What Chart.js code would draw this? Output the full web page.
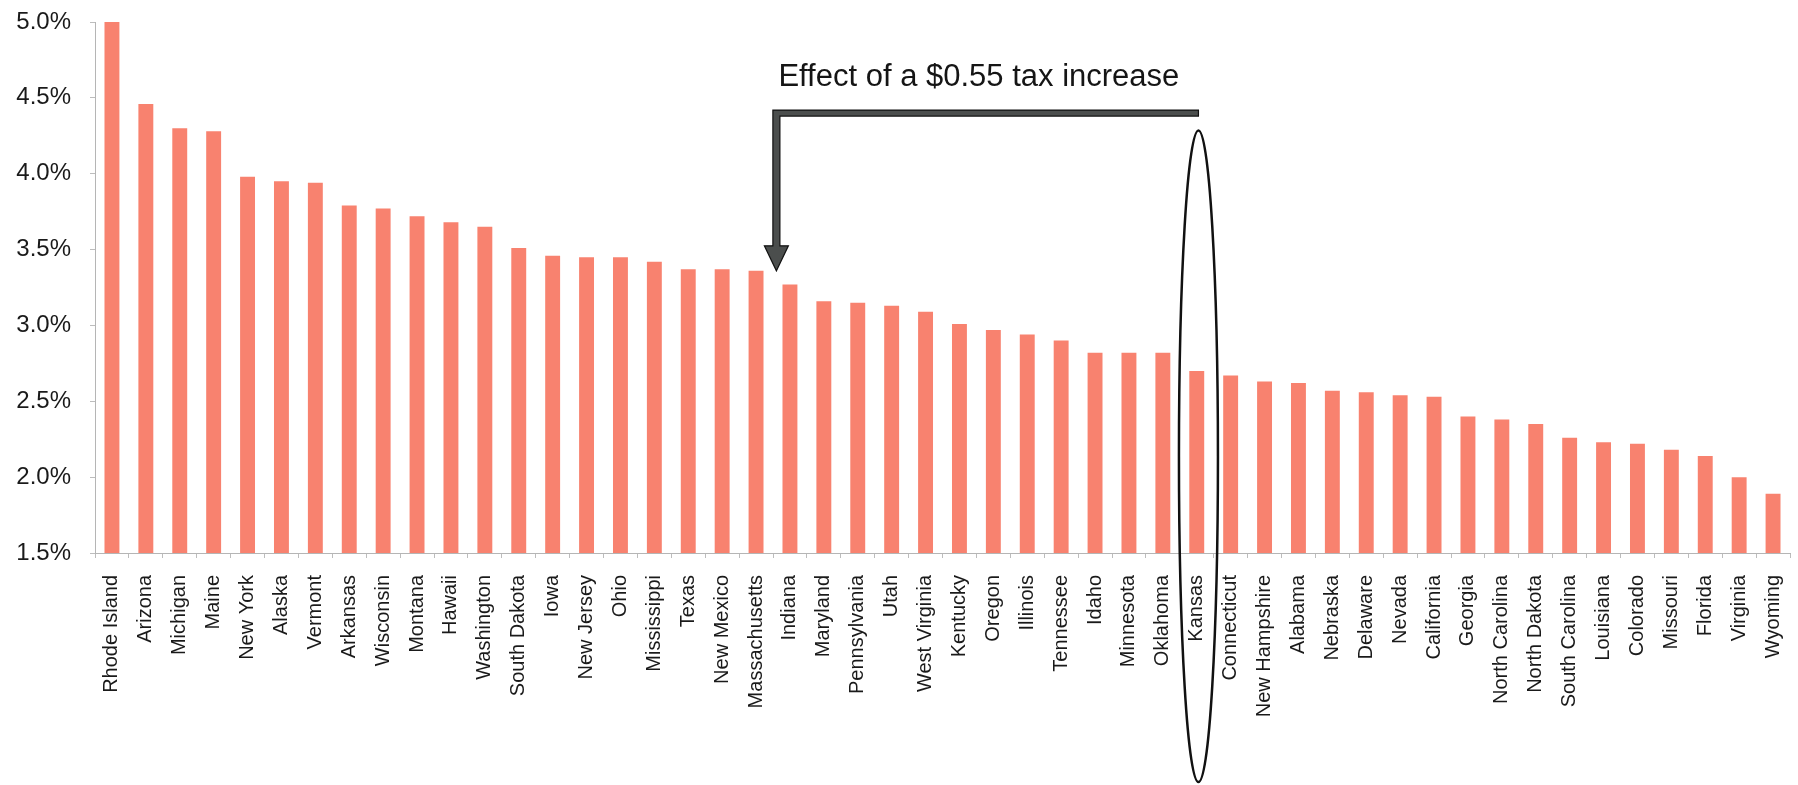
<!DOCTYPE html>
<html>
<head>
<meta charset="utf-8">
<script src="https://cdn.jsdelivr.net/npm/chart.js@4/dist/chart.umd.min.js"></script>
<style>
  html, body { margin: 0; padding: 0; background: #fff; }
  #wrap { width: 1798px; height: 785px; }
</style>
</head>
<body>
<div id="wrap"><canvas id="taxChart" width="1798" height="785"></canvas></div>
<script>
const states = ['Rhode Island', 'Arizona', 'Michigan', 'Maine', 'New York', 'Alaska', 'Vermont',
  'Arkansas', 'Wisconsin', 'Montana', 'Hawaii', 'Washington', 'South Dakota', 'Iowa', 'New Jersey',
  'Ohio', 'Mississippi', 'Texas', 'New Mexico', 'Massachusetts', 'Indiana', 'Maryland',
  'Pennsylvania', 'Utah', 'West Virginia', 'Kentucky', 'Oregon', 'Illinois', 'Tennessee', 'Idaho',
  'Minnesota', 'Oklahoma', 'Kansas', 'Connecticut', 'New Hampshire', 'Alabama', 'Nebraska',
  'Delaware', 'Nevada', 'California', 'Georgia', 'North Carolina', 'North Dakota',
  'South Carolina', 'Louisiana', 'Colorado', 'Missouri', 'Florida', 'Virginia', 'Wyoming'];

// percent effect per state
const taxEffect = [5.00, 4.46, 4.30, 4.28, 3.98, 3.95, 3.94,
  3.79, 3.77, 3.72, 3.68, 3.65, 3.51, 3.46, 3.45,
  3.45, 3.42, 3.37, 3.37, 3.36, 3.27, 3.16,
  3.15, 3.13, 3.09, 3.01, 2.97, 2.94, 2.90, 2.82,
  2.82, 2.82, 2.70, 2.67, 2.63, 2.62, 2.57,
  2.56, 2.54, 2.53, 2.40, 2.38, 2.35,
  2.26, 2.23, 2.22, 2.18, 2.14, 2.00, 1.89];

const yMin = 1.5;
const yMax = 5.0;
const yStep = 0.5;

const noteText = 'Effect of a $0.55 tax increase';
const fromIndex = states.indexOf('Massachusetts');
const toIndex = states.indexOf('Kansas');

// arrow bracket + ellipse, placed with the chart scales
const notePlugin = {
  id: 'notes',
  afterDatasetsDraw(chart) {
    const ctx = chart.ctx;
    const xs = chart.scales.x;
    const ys = chart.scales.y;

    const ax = xs.getPixelForValue(fromIndex + 0.6);
    const topY = ys.getPixelForValue(4.40);
    const tipY = ys.getPixelForValue(taxEffect[fromIndex]);
    const kx = xs.getPixelForValue(toIndex + 0.05);
    const shaft = 7, head = 25, headW = 24;

    ctx.save();
    // bracket arrow
    ctx.beginPath();
    ctx.moveTo(kx, topY - 3);
    ctx.lineTo(ax - shaft / 2, topY - 3);
    ctx.lineTo(ax - shaft / 2, tipY - head);
    ctx.lineTo(ax - headW / 2, tipY - head);
    ctx.lineTo(ax, tipY);
    ctx.lineTo(ax + headW / 2, tipY - head);
    ctx.lineTo(ax + shaft / 2, tipY - head);
    ctx.lineTo(ax + shaft / 2, topY + 3);
    ctx.lineTo(kx, topY + 3);
    ctx.closePath();
    ctx.fillStyle = '#4b4e4d';
    ctx.fill();
    ctx.lineWidth = 1.2;
    ctx.strokeStyle = '#111';
    ctx.stroke();

    // label
    ctx.fillStyle = '#151515';
    ctx.font = '31px "Liberation Sans", Arial, sans-serif';
    ctx.textAlign = 'left';
    ctx.textBaseline = 'alphabetic';
    ctx.fillText(noteText, ax + 2, ys.getPixelForValue(4.58));

    // ellipse round Kansas
    const eTop = ys.getPixelForValue(4.285);
    const eBot = chart.height - 3;
    ctx.beginPath();
    ctx.ellipse(kx, (eTop + eBot) / 2, 19.5, (eBot - eTop) / 2, 0, 0, Math.PI * 2);
    ctx.lineWidth = 2.5;
    ctx.strokeStyle = '#111';
    ctx.stroke();
    ctx.restore();
  }
};

const ctxTax = document.getElementById('taxChart').getContext('2d');
const taxChart = new Chart(ctxTax, {
  type: 'bar',
  data: {
    labels: states,
    datasets: [
      {
        label: 'Effect',
        data: taxEffect,
        backgroundColor: '#f8826f',
        borderWidth: 0,
        barPercentage: 0.44,
        categoryPercentage: 1.0
      }
    ]
  },
  options: {
    responsive: false,
    animation: false,
    layout: { padding: { top: 22, right: 8, left: 0, bottom: 0 } },
    scales: {
      x: {
        afterFit: (s) => { s.height = 232; s.paddingLeft = 0; s.paddingRight = 0; },
        grid: { drawOnChartArea: false, tickLength: 5, color: '#bdbdbd' },
        border: { color: '#b5b5b5' },
        ticks: {
          autoSkip: false,
          minRotation: 90,
          maxRotation: 90,
          padding: 17,
          color: '#1a1a1a',
          font: { family: '"Liberation Sans", Arial, sans-serif', size: 20 }
        }
      },
      y: {
        min: yMin,
        max: yMax,
        afterFit: (s) => { s.width = 95; s.paddingTop = 0; s.paddingBottom = 0; },
        grid: { drawOnChartArea: false, tickLength: 5, color: '#bdbdbd' },
        border: { color: '#b5b5b5' },
        ticks: {
          stepSize: yStep,
          padding: 19,
          color: '#1a1a1a',
          font: { family: '"Liberation Sans", Arial, sans-serif', size: 24 },
          callback: (v) => v.toFixed(1) + '%'
        }
      }
    },
    plugins: {
      legend: { display: false },
      tooltip: { enabled: false }
    }
  },
  plugins: [notePlugin]
});
</script>
</body>
</html>
